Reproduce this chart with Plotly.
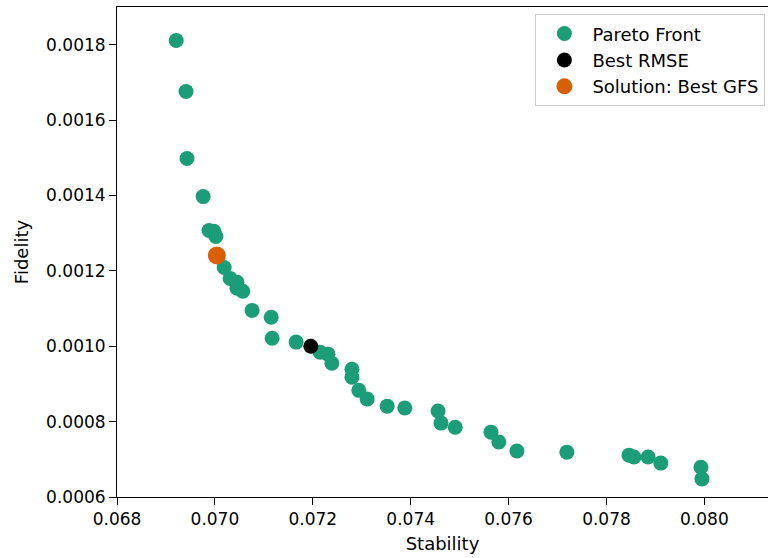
import plotly.graph_objects as go

stability = [0.06921, 0.06941, 0.06943, 0.06976, 0.06988, 0.06998, 0.07002, 0.07019,
             0.07031, 0.07045, 0.07045, 0.07057, 0.07076, 0.07115, 0.07117, 0.07166,
             0.07215, 0.07231, 0.07239, 0.07280, 0.07280, 0.07294, 0.07311, 0.07352,
             0.07388, 0.07456, 0.07462, 0.07491, 0.07564, 0.07580, 0.07617, 0.07719,
             0.07846, 0.07856, 0.07885, 0.07911, 0.07993, 0.07995]
fidelity = [0.001811, 0.001676, 0.001498, 0.001397, 0.001307, 0.001305, 0.001291, 0.001209,
            0.001180, 0.001170, 0.001154, 0.001146, 0.001095, 0.001077, 0.001021, 0.001011,
            0.000984, 0.000979, 0.000955, 0.000939, 0.000918, 0.000883, 0.000860, 0.000841,
            0.000836, 0.000828, 0.000796, 0.000785, 0.000772, 0.000746, 0.000722, 0.000719,
            0.000711, 0.000706, 0.000706, 0.000690, 0.000679, 0.000648]
best_rmse = ([0.07196], [0.001000])
best_gfs = ([0.07004], [0.001241])

x_ticks = [0.068, 0.070, 0.072, 0.074, 0.076, 0.078, 0.080]
y_ticks = [0.0006, 0.0008, 0.0010, 0.0012, 0.0014, 0.0016, 0.0018]

fig = go.Figure()
fig.add_trace(go.Scatter(x=stability, y=fidelity, mode="markers", name="Pareto Front",
                         marker=dict(color="#1b9e77", size=15, line=dict(width=0))))
fig.add_trace(go.Scatter(x=best_rmse[0], y=best_rmse[1], mode="markers", name="Best RMSE",
                         marker=dict(color="#000000", size=15, line=dict(width=0))))
fig.add_trace(go.Scatter(x=best_gfs[0], y=best_gfs[1], mode="markers", name="Solution: Best GFS",
                         marker=dict(color="#d95f02", size=18, line=dict(width=0))))

axis_common = dict(showgrid=False, zeroline=False, showline=True, linecolor="#000000",
                   linewidth=1, ticks="outside", ticklen=7, tickcolor="#000000",
                   tickfont=dict(family="DejaVu Sans", size=17, color="#000000"))

fig.update_layout(
    width=768, height=558,
    margin=dict(l=117, r=0, t=7, b=61),
    paper_bgcolor="white", plot_bgcolor="white",
    font=dict(family="DejaVu Sans", size=17, color="#000000"),
    xaxis=dict(range=[0.068, 0.0813], tickvals=x_ticks,
               ticktext=[f"{v:.3f}" for v in x_ticks], mirror=True,
               title=dict(text="Stability", standoff=8, font=dict(size=18)), **axis_common),
    yaxis=dict(range=[0.0006, 0.0019], tickvals=y_ticks,
               ticktext=[f"{v:.4f}" for v in y_ticks],
               title=dict(text="Fidelity", standoff=12, font=dict(size=18)), **axis_common),
    legend=dict(x=0.996, y=0.985, xanchor="right", yanchor="top",
                bgcolor="rgba(255,255,255,0.8)", bordercolor="#cccccc", borderwidth=1,
                font=dict(family="DejaVu Sans", size=18, color="#000000"),
                tracegroupgap=0, itemsizing="trace", itemwidth=46),
    showlegend=True,
)

fig.write_html("out.html")
